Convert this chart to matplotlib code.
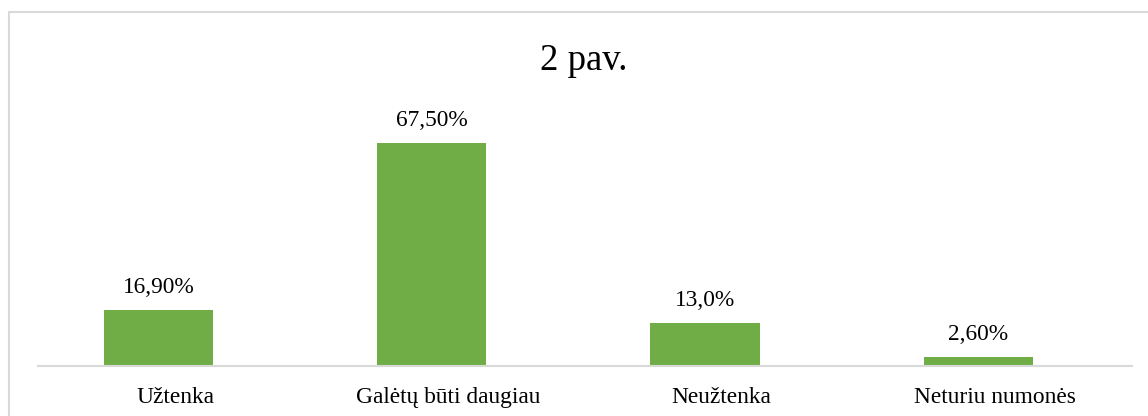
import matplotlib.pyplot as plt
import matplotlib.transforms as mtransforms
from matplotlib.patches import Rectangle

# Data
categories = ["Užtenka", "Galėtų būti daugiau", "Neužtenka", "Neturiu numonės"]
values = [16.90, 67.50, 13.0, 2.60]
value_labels = ["16,90%", "67,50%", "13,0%", "2,60%"]

W, H = 1148, 416
plt.rcParams['font.family'] = ['Liberation Serif', 'DejaVu Serif']

fig = plt.figure(figsize=(W / 100, H / 100), dpi=100)

# chart frame (right and bottom edges fall outside the image)
fig.patches.append(Rectangle((8.5 / W, -0.1), 1.2, (H - 12.5) / H + 0.1,
                             transform=fig.transFigure, fill=False,
                             edgecolor="#d9d9d9", linewidth=1.5))

# plot area: x 38..1132, baseline at y=366, top at 366-80*3.304
left, right = 38, 1132
bottom_px = 366
ymax = 80
top_px = bottom_px - ymax * 3.304
ax = fig.add_axes([left / W, (H - bottom_px) / H, (right - left) / W,
                   (bottom_px - top_px) / H])

x = range(len(categories))
bars = ax.bar(x, values, width=0.4, color="#70ad47")
# category centres at ~158.5 px, spacing ~273.3 px
step = 273.3
c0 = 158.5
ax.set_xlim((left - c0) / step, (right - c0) / step)
ax.set_ylim(0, ymax)

for b, lab in zip(bars, value_labels):
    ax.annotate(lab, (b.get_x() + b.get_width() / 2, b.get_height()),
                xytext=(0, 12.3), textcoords="offset points",
                ha="center", va="baseline", fontsize=16.8, color="#000000")

ax.set_xticks(list(x))
ax.set_xticklabels(categories, fontsize=16.8)
ax.tick_params(axis="x", length=0, pad=15)
# category labels sit slightly right of the bar centres in the original
shift = mtransforms.ScaledTranslation(16.5 / 100, 0, fig.dpi_scale_trans)
for t in ax.get_xticklabels():
    t.set_transform(t.get_transform() + shift)
ax.set_yticks([])
for s in ["top", "right", "left"]:
    ax.spines[s].set_visible(False)
ax.spines["bottom"].set_color("#d9d9d9")
ax.spines["bottom"].set_linewidth(1.5)

fig.text(583.5 / W, 1 - 69.5 / H, "2 pav.", ha="center", va="baseline", fontsize=26.5)

fig.savefig("out.png", dpi=100)
